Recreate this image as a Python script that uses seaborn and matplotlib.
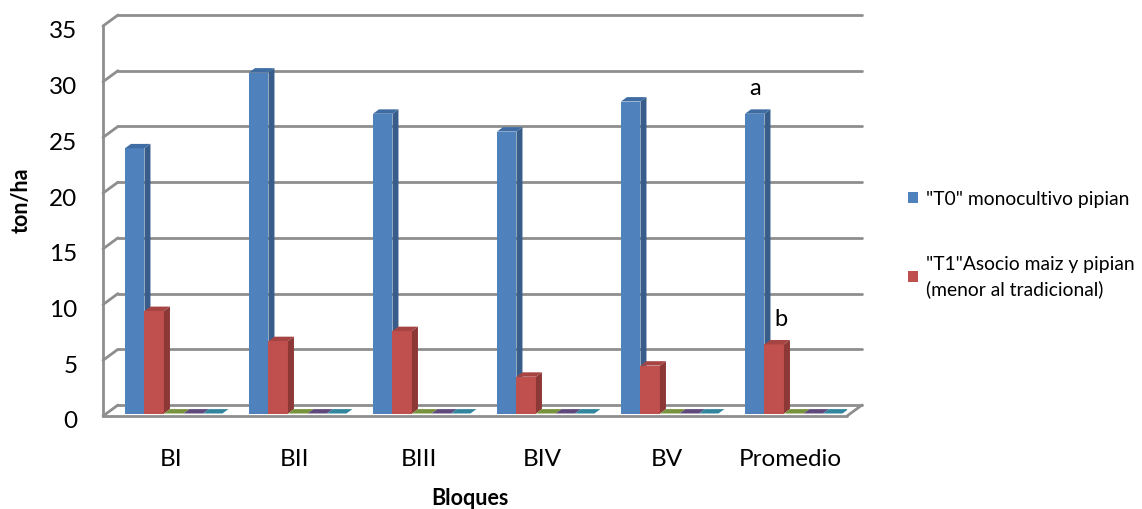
import numpy as np
import pandas as pd
import matplotlib
matplotlib.use("Agg")
import matplotlib.pyplot as plt
import matplotlib.transforms as mtransforms
import seaborn as sns
from matplotlib.patches import Polygon, Patch

# ---- data -------------------------------------------------------------
bloques = ["BI", "BII", "BIII", "BIV", "BV", "Promedio"]
t0_monocultivo = [23.8, 30.6, 26.9, 25.3, 28.0, 26.9]
t1_asocio = [9.2, 6.5, 7.4, 3.3, 4.3, 6.2]
serie3 = [0, 0, 0, 0, 0, 0]
serie4 = [0, 0, 0, 0, 0, 0]
serie5 = [0, 0, 0, 0, 0, 0]
series_names = ['"T0" monocultivo pipian',
                '"T1"Asocio maiz y pipian\n(menor al tradicional)',
                "Serie3", "Serie4", "Serie5"]
letras = ["a", "b"]          # mean-separation letters for Promedio
y_ticks = [0, 5, 10, 15, 20, 25, 30, 35]

front = ["#4F81BD", "#C0504D", "#9BBB59", "#8064A2", "#4BACC6"]
side = ["#385D8A", "#8C3836", "#71893F", "#5C4776", "#357D91"]
top = ["#3F6DA3", "#A54442", "#77933C", "#5F497A", "#31859C"]

df = pd.DataFrame({
    "Bloque": bloques * 5,
    "Serie": np.repeat(series_names, len(bloques)),
    "valor": t0_monocultivo + t1_asocio + serie3 + serie4 + serie5,
})

FONT = "Lato"

# ---- figure -----------------------------------------------------------
W, H = 1142, 510
fig = plt.figure(figsize=(W / 100, H / 100), dpi=100)
fig.patch.set_facecolor("white")
ax_l, ax_r, ax_b, ax_t = 103, 847, 417, 27
ax = fig.add_axes([ax_l / W, 1 - ax_b / H, (ax_r - ax_l) / W, (ax_b - ax_t) / H])

sns.barplot(data=df, x="Bloque", y="valor", hue="Serie", palette=front,
            width=0.786, saturation=1, legend=False, ax=ax,
            errorbar=None, linewidth=0)

shift = 0.046
xl, xr = -0.5 - shift, 5.5 - shift
ax.set_xlim(xl, xr)
ax.set_ylim(0, 35)

px_x = (ax_r - ax_l) / (xr - xl)      # pixels per x unit
px_y = (ax_b - ax_t) / 35.0           # pixels per y unit

# wall depth and bar depth, in data units
wdx, wdy = 15 / px_x, 11 / px_y
bdx, bdy = 6 / px_x, 4.4 / px_y
b0x, b0y = 3 / px_x, 2.5 / px_y       # bars stand a little behind the front edge

grid_kw = dict(color="#8E8E8E", lw=2.0, clip_on=False, zorder=1,
               solid_capstyle="round")
for v in y_ticks:
    ax.plot([xl + wdx, xr + wdx], [v + wdy, v + wdy], **grid_kw)
    ax.plot([xl, xl + wdx], [v, v + wdy], **grid_kw)
ax.plot([xl, xl], [0, 35], **grid_kw)
ax.plot([xl, xr], [0, 0], **grid_kw)
ax.plot([xr, xr + wdx], [0, wdy], **grid_kw)

# ---- 3D faces for every bar -------------------------------------------
n = len(bloques)
bars = list(ax.patches)
for i, p in enumerate(bars):
    k = i // n
    x0 = p.get_x() + b0x
    w = p.get_width()
    h = p.get_height()
    p.set_x(x0)
    p.set_y(b0y)
    p.set_zorder(3 + k)
    y1 = b0y + h
    side_poly = Polygon([(x0 + w, b0y), (x0 + w + bdx, b0y + bdy),
                         (x0 + w + bdx, y1 + bdy), (x0 + w, y1)],
                        closed=True, facecolor=side[k], edgecolor="none",
                        zorder=3 + k)
    top_poly = Polygon([(x0, y1), (x0 + w, y1), (x0 + w + bdx, y1 + bdy),
                        (x0 + bdx, y1 + bdy)],
                       closed=True, facecolor=top[k], edgecolor="none",
                       zorder=3 + k)
    if h > 0:
        ax.add_patch(side_poly)
    ax.add_patch(top_poly)

# significance letters on the Promedio bars
for k, letra in enumerate(letras):
    p = bars[k * n + (n - 1)]
    cx = p.get_x() + p.get_width() / 2
    val = p.get_height()
    ax.annotate(letra, xy=(cx, b0y + val), xytext=(0 if k == 0 else 5, 11),
                textcoords="offset points", ha="center", va="bottom",
                fontsize=17, family=FONT, color="black", zorder=10)

# ---- axes cosmetics -----------------------------------------------------
for s in ax.spines.values():
    s.set_visible(False)
ax.set_yticks(y_ticks)
ax.set_yticklabels([str(v) for v in y_ticks])
ax.tick_params(axis="y", length=0, pad=18.5, labelsize=17.5)
ax.tick_params(axis="x", length=0, pad=23, labelsize=17.5)
down = mtransforms.ScaledTranslation(0, -3 / 100, fig.dpi_scale_trans)
for lab in ax.get_yticklabels():
    lab.set_transform(lab.get_transform() + down)
for lab in ax.get_xticklabels() + ax.get_yticklabels():
    lab.set_family(FONT)
ax.set_xlabel("")
ax.set_ylabel("")
ax.set_facecolor("none")

fig.text(21 / W, 1 - 200 / H, "ton/ha", rotation=90, ha="center", va="center",
         fontsize=15.5, fontweight="bold", family=FONT)
fig.text(470 / W, 1 - 499 / H, "Bloques", ha="center", va="center",
         fontsize=15.5, fontweight="bold", family=FONT)

handles = [Patch(facecolor=front[0], edgecolor="none"),
           Patch(facecolor=front[1], edgecolor="none")]
leg = fig.legend(handles, series_names[:2], loc="upper left",
                 bbox_to_anchor=(908 / W, 1 - 191 / H), frameon=False,
                 prop={"family": FONT, "size": 13.9},
                 handlelength=0.5, handleheight=0.5, handletextpad=0.45,
                 labelspacing=2.5, borderaxespad=0, borderpad=0)
leg.get_texts()[1].set_linespacing(1.45)

fig.savefig("out.png", dpi=100, facecolor="white")
